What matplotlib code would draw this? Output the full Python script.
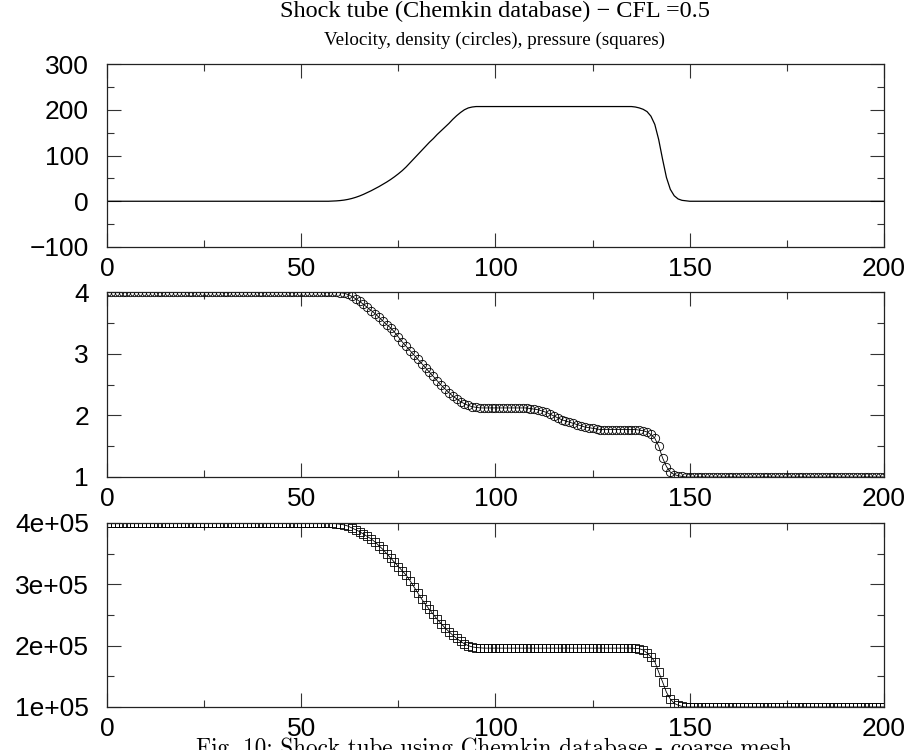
import numpy as np
import matplotlib
matplotlib.use("Agg")
import matplotlib.pyplot as plt
from matplotlib.ticker import MultipleLocator, FixedLocator, FixedFormatter

# grid points (one per cell), x = 0..200
x = np.arange(0, 201)

# velocity
vel = ([0.0] * 58
       + [0.3, 0.8, 1.5, 2.5, 4, 6, 8.5, 11.5, 15, 19, 23, 27.5, 32, 37, 42, 47.5, 53.5,
          60, 67, 75, 84, 93, 102, 111, 120, 129, 137, 146, 154, 162, 170, 179, 187, 194,
          200, 204, 206, 207, 207, 207]
       + [207.0] * 37
       + [207, 206, 204, 201, 196, 186, 168, 135, 92, 52, 26, 12, 5, 2, 1, 0]
       + [0.0] * 50)

# density (circles)
rho = ([4.0] * 60
       + [3.99, 3.98, 3.96, 3.93, 3.89, 3.85, 3.80, 3.75, 3.70, 3.65, 3.59, 3.53, 3.47,
          3.42, 3.35, 3.27, 3.19, 3.12, 3.05, 2.98, 2.91, 2.84, 2.77, 2.70, 2.63, 2.56,
          2.49, 2.43, 2.37, 2.31, 2.27, 2.22, 2.19, 2.16, 2.14, 2.13, 2.12, 2.12]
       + [2.12] * 11
       + [2.11, 2.10, 2.09, 2.07, 2.05, 2.02, 1.99, 1.96, 1.93, 1.91, 1.89, 1.87, 1.85,
          1.83, 1.81, 1.80, 1.79, 1.78]
       + [1.77] * 10
       + [1.76, 1.75, 1.73, 1.69, 1.63, 1.50, 1.31, 1.17, 1.08, 1.04, 1.02, 1.01, 1.00]
       + [1.0] * 51)

# pressure (squares), in units of 1e5
p_1e5 = ([4.0] * 58
         + [3.995, 3.99, 3.98, 3.97, 3.95, 3.92, 3.89, 3.86, 3.82, 3.78, 3.74, 3.69, 3.63,
            3.57, 3.50, 3.43, 3.36, 3.29, 3.22, 3.15, 3.06, 2.96, 2.86, 2.76, 2.67, 2.59,
            2.51, 2.43, 2.36, 2.29, 2.23, 2.17, 2.12, 2.07, 2.03, 2.00, 1.98, 1.97, 1.965,
            1.96]
         + [1.96] * 38
         + [1.955, 1.95, 1.93, 1.88, 1.82, 1.74, 1.57, 1.41, 1.24, 1.13, 1.06, 1.03, 1.01,
            1.0]
         + [1.0] * 51)
pres = np.array(p_1e5) * 1e5

x_ticks = [0, 50, 100, 150, 200]
vel_ticks = [-100, 0, 100, 200, 300]
vel_ticklabels = ["\u2212100", "0", "100", "200", "300"]
rho_ticks = [1, 2, 3, 4]
p_ticks = [1e5, 2e5, 3e5, 4e5]
p_ticklabels = ["1e+05", "2e+05", "3e+05", "4e+05"]

title = "Shock tube (Chemkin database) \u2212 CFL =0.5"
subtitle = "Velocity, density (circles), pressure (squares)"
caption = "Fig. 10: Shock tube using Chemkin database - coarse mesh."

plt.rcParams['font.family'] = ['Liberation Sans', 'DejaVu Sans']

fig = plt.figure(figsize=(9.12, 7.5), dpi=100)
left, width = 107 / 912, 777 / 912
ax1 = fig.add_axes([left, 1 - 247 / 750, width, 183 / 750])
ax2 = fig.add_axes([left, 1 - 477 / 750, width, 185 / 750])
ax3 = fig.add_axes([left, 1 - 707 / 750, width, 184 / 750])

ax1.plot(x, vel, color='black', lw=0.9)
ax2.plot(x, rho, color='black', lw=0.6, marker='o', ms=6, mfc='none',
         mec='black', mew=0.6)
ax3.plot(x, pres, color='black', lw=0.6, marker='s', ms=5.5, mfc='none',
         mec='black', mew=0.6)

ax1.set_ylim(-100, 300)
ax1.set_yticks(vel_ticks)
ax1.set_yticklabels(vel_ticklabels)
ax1.yaxis.set_minor_locator(MultipleLocator(50))

ax2.set_ylim(1, 4)
ax2.set_yticks(rho_ticks)
ax2.yaxis.set_minor_locator(MultipleLocator(0.5))

ax3.set_ylim(1e5, 4e5)
ax3.yaxis.set_major_locator(FixedLocator(p_ticks))
ax3.yaxis.set_major_formatter(FixedFormatter(p_ticklabels))
ax3.yaxis.set_minor_locator(MultipleLocator(0.5e5))

for ax in (ax1, ax2, ax3):
    ax.set_xlim(0, 200)
    ax.set_xticks(x_ticks)
    ax.xaxis.set_minor_locator(MultipleLocator(25))
    ax.tick_params(which='both', direction='in', top=True, right=True,
                   width=0.8, colors='#333333', labelcolor='black')
    ax.tick_params(which='major', length=10)
    ax.tick_params(which='minor', length=5)
    ax.tick_params(axis='y', which='major', labelsize=19, pad=13)
    ax.tick_params(axis='x', which='major', labelsize=19, pad=7)
    for s in ax.spines.values():
        s.set_linewidth(0.9)
        s.set_color('#222222')

fig.text(495 / 912, 1 - 11 / 750, title, ha='center', va='center',
         family=['Liberation Serif'], fontsize=17.5)
fig.text(495 / 912, 1 - 40 / 750, subtitle, ha='center', va='center',
         family=['Liberation Serif'], fontsize=13.7)
fig.text(196 / 912, 1 - 737 / 750, caption, ha='left', va='top',
         family=['cmr10', 'DejaVu Serif'], fontsize=16.7)

fig.savefig("out.png", dpi=100)
